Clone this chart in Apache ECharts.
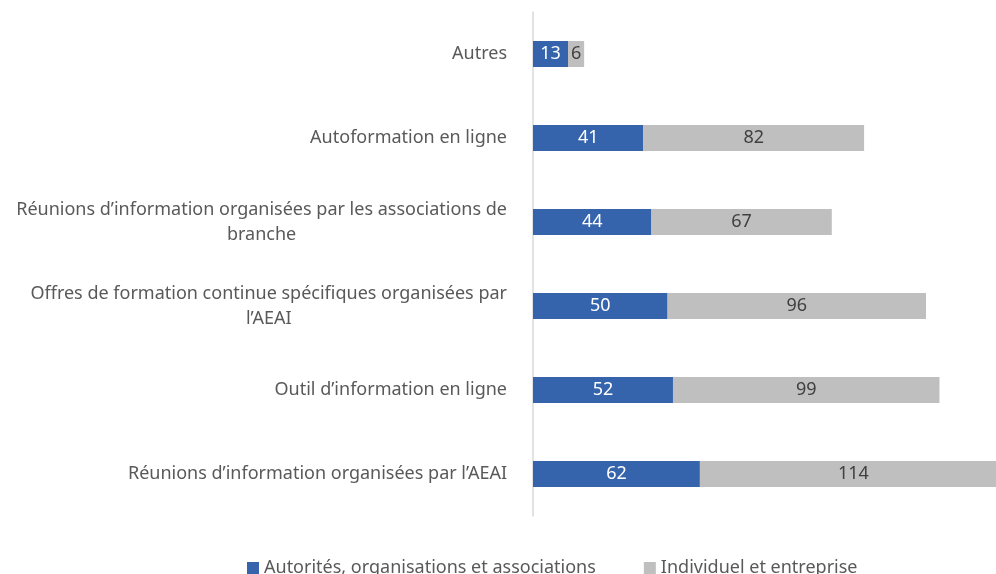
<!DOCTYPE html>
<html>
<head>
<meta charset="utf-8">
<script src="https://cdn.jsdelivr.net/npm/echarts@6/dist/echarts.min.js"></script>
<style>
  html, body { margin: 0; padding: 0; background: #fff; }
  #chart { width: 996px; height: 574px; }
</style>
</head>
<body>
<div id="chart"></div>
<script>
// categories bottom -> top (ECharts category axis starts at the bottom)
var categories = [
  'Réunions d\u2019information organisées par l\u2019AEAI',
  'Outil d\u2019information en ligne',
  'Offres de formation continue spécifiques organisées par\nl\u2019AEAI',
  'Réunions d\u2019information organisées par les associations de\nbranche',
  'Autoformation en ligne',
  'Autres'
];
var autorites = [62, 52, 50, 44, 41, 13];
var individuel = [114, 99, 96, 67, 82, 6];
var seriesNames = ['Autorités, organisations et associations', 'Individuel et entreprise'];

var font = 'Noto Sans';
var chart = echarts.init(document.getElementById('chart'));
chart.setOption({
  animation: false,
  textStyle: { fontFamily: font },
  // the longest bar runs past the right edge in the original, so the axis max is
  // a bit below the biggest total and clipping is turned off
  grid: { left: 533, top: 12, right: 0, bottom: 58, containLabel: false },
  xAxis: {
    type: 'value', min: 0, max: 172,
    show: false
  },
  yAxis: {
    type: 'category',
    data: categories,
    axisLine: { show: true, lineStyle: { color: '#d9d9d9', width: 1.5 } },
    axisTick: { show: false },
    axisLabel: {
      margin: 26,
      color: '#595959',
      fontSize: 18,
      lineHeight: 25,
      formatter: function (v) {
        return v.split('\n').map(function (s) { return '{c|' + s + '}'; }).join('\n');
      },
      rich: { c: { align: 'center', fontSize: 18, color: '#595959', lineHeight: 25, fontFamily: font } }
    }
  },
  legend: {
    bottom: -8,
    left: 242,
    itemWidth: 12, itemHeight: 12, itemGap: 48,
    icon: 'rect',
    textStyle: { color: '#595959', fontSize: 18, fontFamily: font },
    data: seriesNames
  },
  series: [
    {
      name: seriesNames[0], type: 'bar', stack: 'a',
      data: autorites,
      barCategoryGap: '69%',
      clip: false,
      itemStyle: { color: '#3564ad' },
      label: { show: true, position: 'inside', color: '#fff', fontSize: 18, fontFamily: font }
    },
    {
      name: seriesNames[1], type: 'bar', stack: 'a',
      data: individuel,
      barCategoryGap: '69%',
      clip: false,
      itemStyle: { color: '#bfbfbf' },
      label: { show: true, position: 'inside', color: '#404040', fontSize: 18, fontFamily: font }
    }
  ]
});
</script>
</body>
</html>
